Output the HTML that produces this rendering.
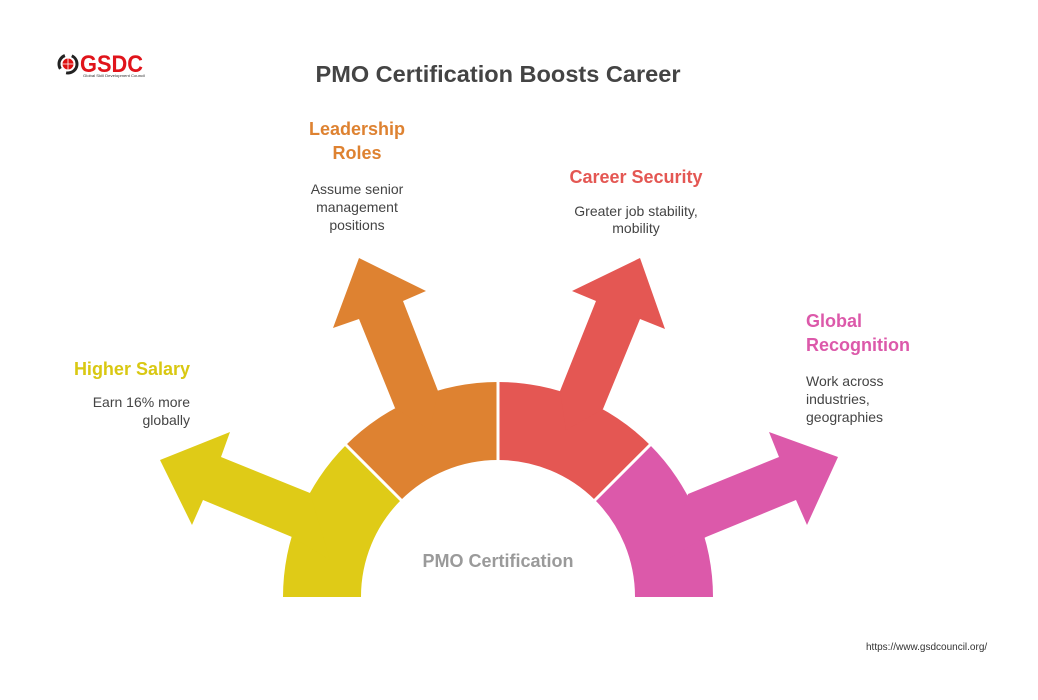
<!DOCTYPE html>
<html><head><style>
body{margin:0;background:#fff;}
svg{display:block;font-family:"Liberation Sans",sans-serif;}
</style></head><body>
<svg width="1038" height="700" viewBox="0 0 1038 700">
<rect width="1038" height="700" fill="#fff"/>
<!-- logo -->
<circle cx="68" cy="64" r="9" fill="none" stroke="#222" stroke-width="3" stroke-dasharray="16 7"/>
<circle cx="68" cy="64" r="5.5" fill="#d11"/>
<path d="M62.5 64h11M68 58.5v11" stroke="#fff" stroke-width="0.8"/>
<text x="80" y="72" font-size="24" font-weight="bold" fill="#e0141b" textLength="63" lengthAdjust="spacingAndGlyphs">GSDC</text>
<text x="83" y="77" font-size="4" fill="#333" textLength="62" lengthAdjust="spacingAndGlyphs">Global Skill Development Council</text>
<text x="498" y="82" font-size="23.5" font-weight="bold" fill="#444" text-anchor="middle" textLength="365" lengthAdjust="spacingAndGlyphs">PMO Certification Boosts Career</text>
<!-- sectors -->
<path d="M283 597 A215 215 0 0 1 346 445 L401 500 A137 137 0 0 0 361 597 Z" fill="#DFCB17"/>
<path d="M346 445 A215 215 0 0 1 498 382 L498 460 A137 137 0 0 0 401 500 Z" fill="#DE8231"/>
<path d="M498 382 A215 215 0 0 1 650 445 L595 500 A137 137 0 0 0 498 460 Z" fill="#E45753"/>
<path d="M650 445 A215 215 0 0 1 713 597 L635 597 A137 137 0 0 0 595 500 Z" fill="#DC59AA"/>
<!-- arrows -->
<polygon points="310,493 221,457 230,432 160,460 192,525 203,500 292,537 330,560" fill="#DFCB17"/>
<polygon points="395,408 359,319 333,328 359,258 426,291 403,301 438,391 430,430" fill="#DE8231"/>
<polygon points="603,409 640,319 665,329 640,258 572,291 596,301 560,391 566,430" fill="#E45753"/>
<polygon points="688,494 779,457 769,432 838,457 807,525 796,500 706,537 666,560" fill="#DC59AA"/>
<!-- dividers -->
<path d="M498 380 V462 M344 443 L403 502 M652 443 L593 502" stroke="#fff" stroke-width="3"/>
<text x="498" y="567" font-size="18" font-weight="bold" fill="#9a9a9a" text-anchor="middle">PMO Certification</text>
<!-- labels -->
<g font-weight="bold" font-size="18">
<text x="357" y="135" fill="#DE8231" text-anchor="middle">Leadership</text>
<text x="357" y="159" fill="#DE8231" text-anchor="middle">Roles</text>
<text x="636" y="183" fill="#E45753" text-anchor="middle">Career Security</text>
<text x="806" y="327" fill="#DC59AA">Global</text>
<text x="806" y="351" fill="#DC59AA">Recognition</text>
<text x="190" y="375" fill="#D9C812" text-anchor="end">Higher Salary</text>
</g>
<g font-size="14" fill="#444">
<text x="357" y="194" text-anchor="middle">Assume senior</text>
<text x="357" y="212" text-anchor="middle">management</text>
<text x="357" y="230" text-anchor="middle">positions</text>
<text x="636" y="216" text-anchor="middle">Greater job stability,</text>
<text x="636" y="233" text-anchor="middle">mobility</text>
<text x="806" y="386">Work across</text>
<text x="806" y="404">industries,</text>
<text x="806" y="422">geographies</text>
<text x="190" y="407" text-anchor="end">Earn 16% more</text>
<text x="190" y="425" text-anchor="end">globally</text>
</g>
<text x="866" y="650" font-size="10" fill="#333">https://www.gsdcouncil.org/</text>
</svg>
</body></html>
